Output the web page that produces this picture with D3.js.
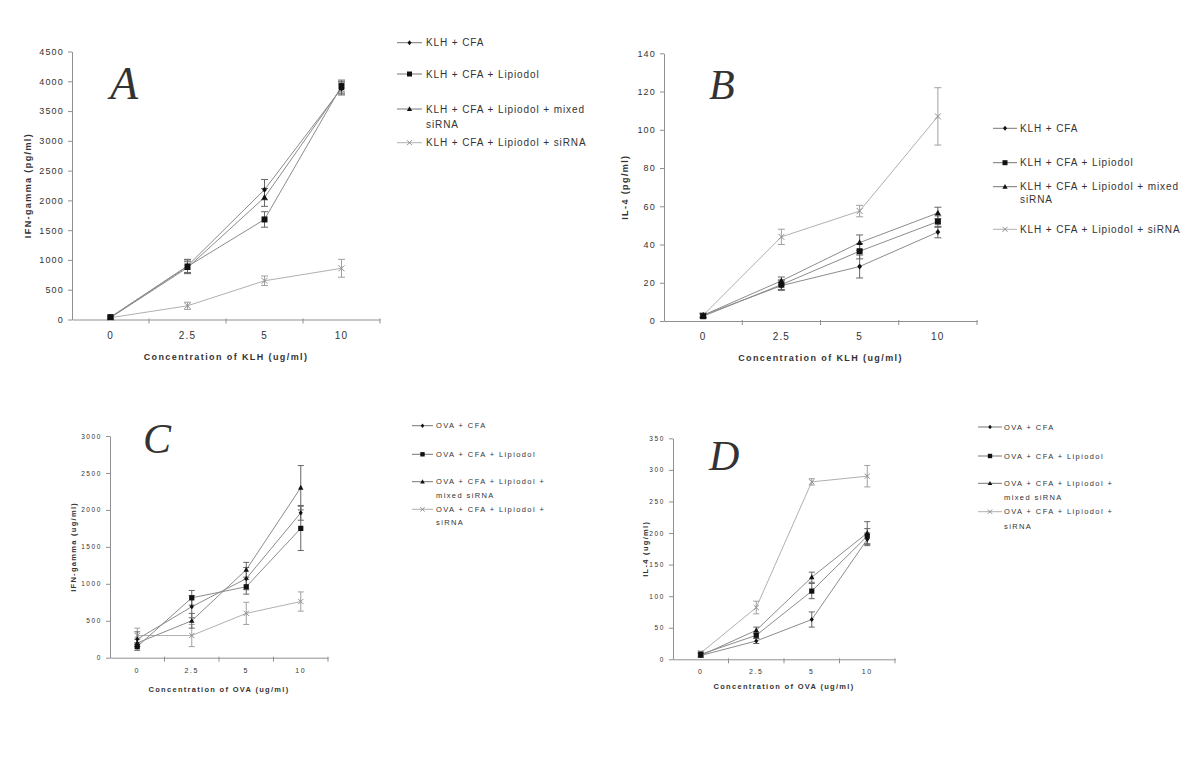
<!DOCTYPE html>
<html><head><meta charset="utf-8">
<script src="https://cdn.jsdelivr.net/npm/d3@7"></script>
<style>
body{margin:0;background:#fff}
text{font-family:"Liberation Sans",Arial,sans-serif;fill:#333}
</style></head>
<body><svg id="c" width="1200" height="766"></svg>
<script>
// ---------------- DATA ----------------
const concentrations = ["0", "2.5", "5", "10"];

const klhLegend = [["KLH + CFA"], ["KLH + CFA + Lipiodol"], ["KLH + CFA + Lipiodol + mixed", "siRNA"], ["KLH + CFA + Lipiodol + siRNA"]];
const ovaLegend = [["OVA + CFA"], ["OVA + CFA + Lipiodol"], ["OVA + CFA + Lipiodol +", "mixed siRNA"], ["OVA + CFA + Lipiodol +", "siRNA"]];

// Panel A: IFN-gamma (pg/ml), KLH
const aTicks = [0, 500, 1000, 1500, 2000, 2500, 3000, 3500, 4000, 4500];
const aCFA      = [40, 900, 2180, 3880];
const aLip      = [40, 890, 1680, 3920];
const aMixed    = [30, 870, 2050, 3890];
const aSiRNA    = [30, 230, 650, 860];
const aCFAErr   = [20, 110, 170, 110];
const aLipErr   = [20, 110, 130, 100];
const aMixedErr = [20, 100, 150, 100];
const aSiRNAErr = [15, 60, 80, 150];

// Panel B: IL-4 (pg/ml), KLH
const bTicks = [0, 20, 40, 60, 80, 100, 120, 140];
const bCFA      = [3, 18.5, 28.5, 46.5];
const bLip      = [2.5, 19, 36.5, 52];
const bMixed    = [3, 21, 41, 56.5];
const bSiRNA    = [3, 44, 57.5, 107];
const bCFAErr   = [1, 2.5, 6, 3];
const bLipErr   = [1, 2.5, 4, 3];
const bMixedErr = [1, 2, 4, 3];
const bSiRNAErr = [1, 4, 3, 15];

// Panel C: IFN-gamma (ug/ml), OVA
const cTicks = [0, 500, 1000, 1500, 2000, 2500, 3000];
const cCFA      = [250, 690, 1070, 1960];
const cLip      = [150, 810, 960, 1750];
const cMixed    = [200, 500, 1190, 2300];
const cSiRNA    = [300, 300, 600, 760];
const cCFAErr   = [100, 150, 150, 100];
const cLipErr   = [50, 100, 100, 300];
const cMixedErr = [50, 100, 100, 300];
const cSiRNAErr = [100, 150, 150, 130];

// Panel D: IL-4 (ug/ml), OVA
const dTicks = [0, 50, 100, 150, 200, 250, 300, 350];
const dCFA      = [6, 29, 63, 190];
const dLip      = [8, 38, 108, 195];
const dMixed    = [6, 46, 130, 200];
const dSiRNA    = [10, 82, 281, 290];
const dCFAErr   = [3, 4, 12, 10];
const dLipErr   = [3, 5, 12, 12];
const dMixedErr = [3, 5, 8, 18];
const dSiRNAErr = [3, 10, 5, 17];

// ---------------- LAYOUT ----------------
const svg = d3.select("#c");
const axisColor = "#909090";
const lineDark = "#8c8c8c";
const lineLight = "#b0b0b0";

const markerKinds = ["diamond", "square", "triangle", "x"];

function markerPath(kind, s) {
  const p = d3.path();
  if (kind === "diamond") { p.moveTo(0, -s); p.lineTo(s * 0.8, 0); p.lineTo(0, s); p.lineTo(-s * 0.8, 0); p.closePath(); }
  else if (kind === "square") { p.rect(-s, -s, 2 * s, 2 * s); }
  else if (kind === "triangle") { p.moveTo(0, -s * 1.1); p.lineTo(s * 1.05, s * 0.8); p.lineTo(-s * 1.05, s * 0.8); p.closePath(); }
  else { p.moveTo(-s, -s); p.lineTo(s, s); p.moveTo(s, -s); p.lineTo(-s, s); }
  return p.toString();
}

function drawMarker(g, kind, cx, cy, s) {
  const m = g.append("path").attr("d", markerPath(kind, s)).attr("transform", `translate(${cx},${cy})`);
  if (kind === "x") m.attr("fill", "none").attr("stroke", "#909090").attr("stroke-width", 1);
  else m.attr("fill", "#111");
}

function drawPanel(p) {
  const g = svg.append("g");
  const x = d3.scaleBand().domain(concentrations).range([p.x0, p.x1]);
  const y = d3.scaleLinear().domain([0, p.ticks[p.ticks.length - 1]]).range([p.y0, p.y1]);
  const cx = c => x(c) + x.bandwidth() / 2;

  // y axis
  const ya = g.append("g").attr("transform", `translate(${p.x0},0)`)
    .call(d3.axisLeft(y).tickValues(p.ticks).tickSize(4).tickSizeOuter(0).tickPadding(p.yPad).tickFormat(d3.format("d")));
  ya.select(".domain").attr("stroke", axisColor);
  ya.selectAll(".tick line").attr("stroke", axisColor);
  ya.selectAll(".tick text").style("font-size", p.tickFont + "px").style("letter-spacing", p.tickLs + "px")
    .style("font-family", '"Liberation Sans",Arial,sans-serif').attr("fill", "#333");

  // x axis (labels at band centres, ticks at band boundaries)
  const xa = g.append("g").attr("transform", `translate(0,${p.y0})`)
    .call(d3.axisBottom(x).tickSize(0).tickSizeOuter(0).tickPadding(p.xPad));
  xa.select(".domain").attr("stroke", axisColor);
  xa.selectAll(".tick text").style("font-size", p.xTickFont + "px").style("letter-spacing", p.tickLs + "px")
    .style("font-family", '"Liberation Sans",Arial,sans-serif').attr("fill", "#333");
  g.append("g").selectAll("line").data(concentrations).join("line")
    .attr("x1", d => x(d) + x.step()).attr("x2", d => x(d) + x.step())
    .attr("y1", p.y0 - 1).attr("y2", p.y0 + 4).attr("stroke", axisColor);

  // axis titles
  g.append("text").attr("transform", `translate(${p.yTitleX},${(p.y0 + p.y1) / 2}) rotate(-90)`)
    .attr("text-anchor", "middle").attr("dy", "0.35em")
    .style("font-size", p.titleFont + "px").style("font-weight", "bold").style("letter-spacing", p.titleLs + "px")
    .text(p.yTitle);
  g.append("text").attr("x", (p.x0 + p.x1) / 2).attr("y", p.xTitleY).attr("text-anchor", "middle")
    .style("font-size", p.titleFont + "px").style("font-weight", "bold").style("letter-spacing", p.titleLs + "px")
    .text(p.xTitle);

  // panel letter
  g.append("text").attr("x", p.letterX).attr("y", p.letterY)
    .style("font-family", '"Liberation Serif","Times New Roman",serif').style("font-style", "italic")
    .style("font-size", p.letterSize + "px").attr("fill", "#000").text(p.letter);

  // series: draw siRNA first (behind)
  const order = [3, 0, 1, 2];
  const line = d3.line().x((d, j) => cx(concentrations[j])).y(d => y(d));
  order.forEach(i => {
    const vals = p.values[i];
    g.append("path").attr("d", line(vals)).attr("fill", "none")
      .attr("stroke", i === 3 ? lineLight : lineDark).attr("stroke-width", 1);
  });
  order.forEach(i => {
    const vals = p.values[i], errs = p.errors[i];
    const col = i === 3 ? "#a0a0a0" : "#666";
    vals.forEach((v, j) => {
      const px = cx(concentrations[j]);
      const e = errs[j];
      g.append("line").attr("x1", px).attr("x2", px).attr("y1", y(v + e)).attr("y2", y(Math.max(v - e, 0)))
        .attr("stroke", col).attr("stroke-width", 1);
      [v + e, Math.max(v - e, 0)].forEach(ev => {
        g.append("line").attr("x1", px - p.cap).attr("x2", px + p.cap).attr("y1", y(ev)).attr("y2", y(ev))
          .attr("stroke", col).attr("stroke-width", 1);
      });
    });
  });
  order.forEach(i => {
    p.values[i].forEach((v, j) => drawMarker(g, markerKinds[i], cx(concentrations[j]), y(v), p.mk));
  });

  // legend
  const lg = g.append("g");
  p.legend.forEach((lines, i) => {
    const ry = p.legRows[i];
    lg.append("line").attr("x1", p.legX0).attr("x2", p.legX1).attr("y1", ry).attr("y2", ry)
      .attr("stroke", i === 3 ? lineLight : "#777").attr("stroke-width", 1);
    drawMarker(lg, markerKinds[i], (p.legX0 + p.legX1) / 2, ry, p.legMk);
    lines.forEach((t, k) => {
      lg.append("text").attr("x", p.legTextX).attr("y", ry + k * p.legLine).attr("dy", "0.35em")
        .style("font-size", p.legFont + "px").style("letter-spacing", p.legLs + "px").text(t);
    });
  });
}

drawPanel({
  letter: "A", letterX: 110, letterY: 99, letterSize: 46,
  x0: 72, x1: 380, y0: 319.5, y1: 51.5, ticks: aTicks,
  values: [aCFA, aLip, aMixed, aSiRNA], errors: [aCFAErr, aLipErr, aMixedErr, aSiRNAErr],
  yTitle: "IFN-gamma (pg/ml)", yTitleX: 28, xTitle: "Concentration of KLH (ug/ml)", xTitleY: 360,
  tickFont: 9, xTickFont: 10, tickLs: 1.2, yPad: 4, xPad: 12, titleFont: 9, titleLs: 1.4,
  cap: 3.5, mk: 3,
  legend: klhLegend, legX0: 397, legX1: 422, legTextX: 426, legRows: [42.7, 74, 109, 142.7], legLine: 15.3,
  legFont: 10, legLs: 0.9, legMk: 2.5
});
drawPanel({
  letter: "B", letterX: 709, letterY: 99, letterSize: 42,
  x0: 664, x1: 977, y0: 321, y1: 53.3, ticks: bTicks,
  values: [bCFA, bLip, bMixed, bSiRNA], errors: [bCFAErr, bLipErr, bMixedErr, bSiRNAErr],
  yTitle: "IL-4 (pg/ml)", yTitleX: 625, xTitle: "Concentration of KLH (ug/ml)", xTitleY: 361,
  tickFont: 9, xTickFont: 10, tickLs: 1.2, yPad: 4, xPad: 12, titleFont: 9, titleLs: 1.4,
  cap: 3.5, mk: 3,
  legend: klhLegend, legX0: 993, legX1: 1017, legTextX: 1020, legRows: [128.3, 162.7, 186.7, 229.3], legLine: 12.8,
  legFont: 10, legLs: 0.9, legMk: 2.5
});
drawPanel({
  letter: "C", letterX: 143, letterY: 453, letterSize: 42,
  x0: 110, x1: 328, y0: 657.7, y1: 436, ticks: cTicks,
  values: [cCFA, cLip, cMixed, cSiRNA], errors: [cCFAErr, cLipErr, cMixedErr, cSiRNAErr],
  yTitle: "IFN-gamma (ug/ml)", yTitleX: 73, xTitle: "Concentration of OVA (ug/ml)", xTitleY: 692,
  tickFont: 6.5, xTickFont: 7, tickLs: 1.6, yPad: 4, xPad: 10, titleFont: 7.5, titleLs: 1.3,
  cap: 3, mk: 2.6,
  legend: ovaLegend, legX0: 412, legX1: 433, legTextX: 436, legRows: [425.7, 454.3, 481.7, 509.3], legLine: 13.5,
  legFont: 7.5, legLs: 1.4, legMk: 2.2
});
drawPanel({
  letter: "D", letterX: 709, letterY: 470, letterSize: 42,
  x0: 673, x1: 895, y0: 659.3, y1: 438.3, ticks: dTicks,
  values: [dCFA, dLip, dMixed, dSiRNA], errors: [dCFAErr, dLipErr, dMixedErr, dSiRNAErr],
  yTitle: "IL-4 (ug/ml)", yTitleX: 645, xTitle: "Concentration of OVA (ug/ml)", xTitleY: 689,
  tickFont: 6.5, xTickFont: 7, tickLs: 1.6, yPad: 4, xPad: 10, titleFont: 7.5, titleLs: 1.3,
  cap: 3, mk: 2.6,
  legend: ovaLegend, legX0: 978, legX1: 1002, legTextX: 1004, legRows: [427, 456, 483.3, 511.7], legLine: 14.5,
  legFont: 7.5, legLs: 1.4, legMk: 2.2
});
</script>
</body></html>
